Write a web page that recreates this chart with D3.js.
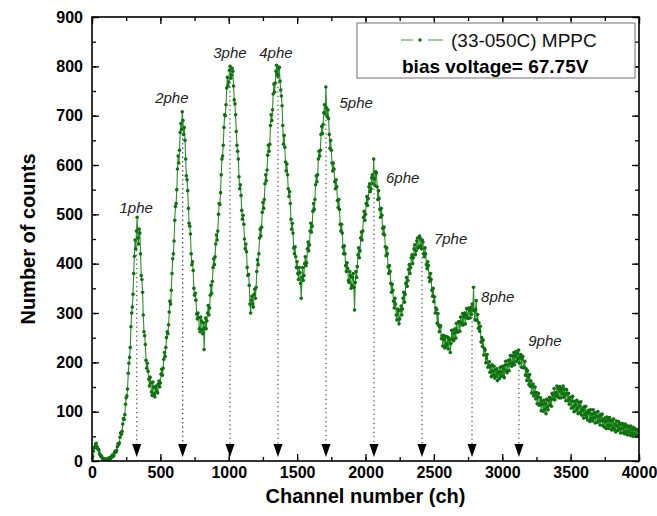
<!DOCTYPE html>
<html>
<head>
<meta charset="utf-8">
<script src="https://cdn.jsdelivr.net/npm/d3@7/dist/d3.min.js"></script>
<style>
  html, body { margin: 0; padding: 0; background: #fff; }
  svg { display: block; font-family: Arial, "Liberation Sans", sans-serif; }
</style>
</head>
<body>
<svg id="chart" width="657" height="516"></svg>
<script>
// ---------------- data ----------------
const channelStep = 5; // channel spacing of the recorded points
const counts0 = [5,10,20,26,28,33,36,30,26,24, 22,15,12,9,10,6,4,5,3,2,
  1,4,5,3,2,6,7,5,6,10, 12,9,11,17,20,18,21,29,35,33,
  37,48,57,54,60,75,86,84,94,115, 128,132,146,178,198,210,230,272,300,312,
  338,380,415,448,430,466,494,452,440,470, 462,420,376,368,342,296,262,254,236,204,
  188,198,182,166,152,170,158,140,133,160, 150,136,130,148,152,142,138,156,162,150];
const counts500 = [158,176,186,174,188,206,220,212,230,250, 262,258,276,302,324,318,346,380,410,420,
  446,488,516,522,550,592,618,604,630,666, 684,672,708,690,662,676,650,612,578,570,
  548,512,482,476,460,420,398,404,386,350, 336,340,326,298,288,300,290,268,262,292,
  284,266,258,280,226,270,290,268,284,300, 315,296,310,336,356,340,364,392,410,398,
  414,440,458,448,466,500,522,520,544,580, 612,618,640,676,702,700,722,756,778,760];
const counts1000 = [768,792,800,776,782,796,790,760,732,724, 702,668,640,628,612,576,552,560,538,508,
  490,498,480,450,430,440,424,392,376,378, 356,318,300,326,334,318,312,338,348,330,
  352,384,408,398,420,452,470,456,474,504, 524,512,530,562,580,568,590,620,640,628,
  642,680,702,690,712,744,764,748,766,790, 802,784,780,796,798,770,752,740,720,680,
  642,660,636,606,588,602,580,552,536,546, 522,490,470,482,462,432,420,434,414,392];
const counts1500 = [404,380,368,392,382,360,330,372,392,366, 376,400,414,396,402,430,444,426,438,466,
  482,464,476,506,522,510,530,560,578,566, 580,612,628,618,630,662,678,664,682,706,
  722,704,758,716,698,712,694,662,634,650, 630,604,588,604,592,566,552,570,556,528,
  514,530,510,480,466,480,462,434,420,436, 420,396,384,402,390,366,362,384,376,350,
  356,372,380,352,306,362,384,372,394,418, 432,412,426,452,464,448,466,494,506,488];
const counts2000 = [500,522,536,518,532,556,562,546,552,574, 580,562,612,572,558,586,584,556,530,548,
  532,510,494,512,498,472,460,474,458,434, 416,432,420,394,380,396,384,360,342,358,
  346,324,310,330,318,296,286,308,304,278, 288,306,314,296,308,330,342,322,338,360,
  372,354,366,388,398,380,392,412,418,400, 412,430,438,418,426,446,452,432,434,456,
  452,436,430,448,444,420,414,432,420,398, 390,404,396,372,364,380,368,346,334,350];
const counts2500 = [323,333,300,310,307,279,299,275,262,272, 274,248,254,233,255,247,229,253,232,237,
  251,227,249,246,220,238,265,247,265,244, 259,268,249,279,264,261,282,282,263,292,
  280,276,299,276,293,300,278,296,309,290, 289,310,305,290,311,297,318,306,352,304,
  286,307,325,285,297,269,280,263,273,241, 250,232,245,215,228,225,199,209,216,190,
  192,201,180,192,171,195,182,174,192,168, 185,172,187,163,178,182,167,190,172,180];
const counts3000 = [192,172,187,169,194,202,183,179,195,204, 183,204,214,197,192,213,199,220,195,213,
  222,202,219,207,225,198,210,216,190,208, 212,189,190,202,174,187,163,183,171,155,
  175,151,162,138,152,156,132,137,150,126, 139,116,131,137,113,116,128,102,122,115,
  101,123,104,117,96,125,109,104,122,129, 113,126,111,137,134,125,147,124,139,132,
  152,130,147,128,151,142,128,147,136,152, 129,146,135,122,145,137,122,137,115,127];
const counts3500 = [129,107,121,131,110,100,121,114,102,123, 107,96,119,112,98,120,93,103,108,87,
  110,94,111,88,98,83,103,98,80,104, 86,95,81,104,87,97,77,98,90,78,
  100,81,91,73,94,81,95,72,84,69, 87,80,66,89,72,83,66,88,72,82,
  63,83,67,85,63,75,59,81,71,62, 80,65,75,57,76,65,76,57,70,55,
  75,59,71,53,71,59,68,52,71,55, 64,50,68,55,66,50,64,51,63,51, 60];

const peakLabels   = ["1phe","2phe","3phe","4phe","5phe","6phe","7phe","8phe","9phe"];
const peakChannels = [327, 663, 1009, 1360, 1711, 2062, 2413, 2779, 3122];
const peakCounts   = [455, 690, 795, 795, 710, 570, 440, 310, 212];
// label anchor (data units)
const labelChannels = [323, 584, 1009, 1345, 1810, 2150, 2500, 2845, 3190];
const labelCounts   = [503, 726, 817, 817, 716, 564, 440, 322, 233];
const labelAnchors  = ["middle","middle","middle","middle","start","start","start","start","start"];

const xTicks = [0,500,1000,1500,2000,2500,3000,3500,4000];
const yTicks = [0,100,200,300,400,500,600,700,800,900];
const seriesName = "(33-050C) MPPC";
const biasText = "bias voltage= 67.75V";
const xTitle = "Channel number (ch)";
const yTitle = "Number of counts";

// ---------------- build ----------------
const allCounts = [].concat(counts0, counts500, counts1000, counts1500, counts2000, counts2500, counts3000, counts3500);
const data = allCounts.map((c, i) => ({ ch: i * channelStep, n: c }));

const svg = d3.select("#chart");
const margin = { left: 92, right: 18, top: 17, bottom: 55 };
const W = 657 - margin.left - margin.right;
const H = 516 - margin.top - margin.bottom;

const x = d3.scaleLinear().domain([0, 4000]).range([0, W]);
const y = d3.scaleLinear().domain([0, 900]).range([H, 0]);

const g = svg.append("g").attr("transform", `translate(${margin.left},${margin.top})`);

svg.append("defs").append("clipPath").attr("id", "plotclip")
  .append("rect").attr("x", 0).attr("y", 0).attr("width", W).attr("height", H);

// dotted guide lines and arrows
const guides = g.append("g");
peakChannels.forEach((c, i) => {
  guides.append("line")
    .attr("x1", x(c)).attr("x2", x(c))
    .attr("y1", y(peakCounts[i])).attr("y2", H - 16)
    .attr("stroke", "#555566").attr("stroke-width", 1.3)
    .attr("stroke-dasharray", "1.3,3.2");
  const ax = x(c);
  guides.append("path")
    .attr("d", `M${ax-4.5},${H-17} L${ax+4.5},${H-17} L${ax},${H-4} Z`)
    .attr("fill", "#000");
});

// series
const plot = g.append("g").attr("clip-path", "url(#plotclip)");
plot.append("path").datum(data)
  .attr("fill", "none").attr("stroke", "#2a902a").attr("stroke-width", 1.1)
  .attr("d", d3.line().x(d => x(d.ch)).y(d => y(d.n)));
plot.selectAll("circle.pt").data(data).enter().append("circle")
  .attr("class", "pt")
  .attr("cx", d => x(d.ch)).attr("cy", d => y(d.n)).attr("r", 1.8)
  .attr("fill", "#0f700f");

// axes (ticks inward, on all four sides)
const fontTick = "bold 16px Arial, 'Liberation Sans', sans-serif";
function styleAxis(sel) {
  sel.select(".domain").remove();
  sel.selectAll("line").attr("stroke", "#000").attr("stroke-width", 1.3);
}
const xMinor = d3.range(0, 4001, 250);
const yMinor = d3.range(0, 901, 50);

const xb = g.append("g").attr("transform", `translate(0,${H})`)
  .call(d3.axisBottom(x).tickValues(xMinor).tickSize(-4).tickFormat(""));
styleAxis(xb);
const xbM = g.append("g").attr("transform", `translate(0,${H})`)
  .call(d3.axisBottom(x).tickValues(xTicks).tickSize(-7).tickPadding(6).tickFormat(d3.format("d")));
styleAxis(xbM);
xbM.selectAll("text").style("font", fontTick).attr("fill", "#000");

const xt = g.append("g").call(d3.axisTop(x).tickValues(xMinor).tickSize(-4).tickFormat(""));
styleAxis(xt);
const xtM = g.append("g").call(d3.axisTop(x).tickValues(xTicks).tickSize(-7).tickFormat(""));
styleAxis(xtM);

const yl = g.append("g").call(d3.axisLeft(y).tickValues(yMinor).tickSize(-4).tickFormat(""));
styleAxis(yl);
const ylM = g.append("g").call(d3.axisLeft(y).tickValues(yTicks).tickSize(-7).tickPadding(9).tickFormat(d3.format("d")));
styleAxis(ylM);
ylM.selectAll("text").style("font", fontTick).attr("fill", "#000");

const yr = g.append("g").attr("transform", `translate(${W},0)`)
  .call(d3.axisRight(y).tickValues(yMinor).tickSize(-4).tickFormat(""));
styleAxis(yr);
const yrM = g.append("g").attr("transform", `translate(${W},0)`)
  .call(d3.axisRight(y).tickValues(yTicks).tickSize(-7).tickFormat(""));
styleAxis(yrM);

// frame
g.append("rect").attr("x", 0).attr("y", 0).attr("width", W).attr("height", H)
  .attr("fill", "none").attr("stroke", "#000").attr("stroke-width", 1.6);

// peak labels
peakLabels.forEach((t, i) => {
  g.append("text")
    .attr("x", x(labelChannels[i])).attr("y", y(labelCounts[i]))
    .attr("text-anchor", labelAnchors[i])
    .style("font", "italic 15px Arial, 'Liberation Sans', sans-serif")
    .attr("fill", "#222")
    .text(t);
});

// legend
const lg = svg.append("g");
lg.append("rect").attr("x", 357).attr("y", 23).attr("width", 278).attr("height", 55)
  .attr("fill", "#fff").attr("stroke", "#888").attr("stroke-width", 1.2);
lg.append("line").attr("x1", 401).attr("x2", 413).attr("y1", 40).attr("y2", 40)
  .attr("stroke", "#3aa03a").attr("stroke-width", 1);
lg.append("line").attr("x1", 428).attr("x2", 443).attr("y1", 40).attr("y2", 40)
  .attr("stroke", "#3aa03a").attr("stroke-width", 1);
lg.append("circle").attr("cx", 420).attr("cy", 40).attr("r", 1.8).attr("fill", "#0f700f");
lg.append("text").attr("x", 451).attr("y", 47)
  .style("font", "19px Arial, 'Liberation Sans', sans-serif").attr("fill", "#111").text(seriesName);
lg.append("text").attr("x", 402).attr("y", 73)
  .style("font", "bold 19px Arial, 'Liberation Sans', sans-serif").attr("fill", "#000").text(biasText);

// axis titles
svg.append("text").attr("x", margin.left + W / 2).attr("y", 503)
  .attr("text-anchor", "middle")
  .style("font", "bold 20px Arial, 'Liberation Sans', sans-serif").text(xTitle);
svg.append("text")
  .attr("transform", `translate(35,${margin.top + H / 2}) rotate(-90)`)
  .attr("text-anchor", "middle")
  .style("font", "bold 20px Arial, 'Liberation Sans', sans-serif").text(yTitle);
</script>
</body>
</html>
